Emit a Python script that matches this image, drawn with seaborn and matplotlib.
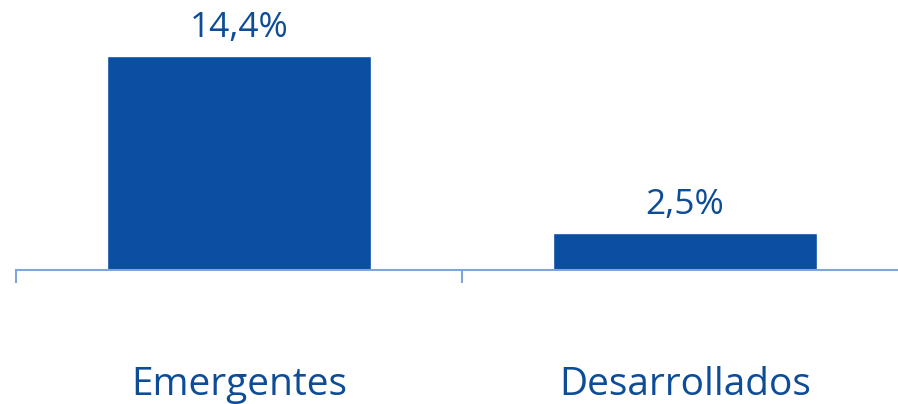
import matplotlib
matplotlib.use("Agg")
import matplotlib.pyplot as plt
import seaborn as sns
import pandas as pd

categorias = ["Emergentes", "Desarrollados"]
valores = [14.4, 2.5]
etiquetas = ["14,4%", "2,5%"]

azul = "#0a4fa1"
azul_texto = "#0d4c97"
azul_eje = "#7fa6d8"

sns.set_style("white")
plt.rcParams["font.family"] = ["Open Sans", "DejaVu Sans"]

df = pd.DataFrame({"cat": categorias, "val": valores})

fig = plt.figure(figsize=(8.98, 4.04), dpi=100)
ax = fig.add_axes([16 / 898, 134 / 404, 882 / 898, 270 / 404])

sns.barplot(data=df, x="cat", y="val", color=azul, saturation=1,
            width=0.59, ax=ax)

ax.set_xlim(-0.5, -0.5 + 882 / 446)
ax.set_ylim(0, 270 / 14.86)

for s in ["top", "right", "left"]:
    ax.spines[s].set_visible(False)
ax.spines["bottom"].set_color(azul_eje)
ax.spines["bottom"].set_linewidth(1.5)

ax.set_yticks([])
ax.set_xlabel("")
ax.set_ylabel("")

ax.set_xticks([0, 1])
ax.set_xticklabels(categorias, fontsize=28, color=azul_texto)
ax.tick_params(axis="x", which="major", bottom=True, length=0, pad=69)
ax.set_xticks([-0.5, 0.5], minor=True)
ax.tick_params(axis="x", which="minor", bottom=True, length=9, width=1.5,
               color=azul_eje, direction="out")

ax.bar_label(ax.containers[0], labels=etiquetas, fontsize=25.5,
             color=azul_texto, padding=8)

fig.savefig("out.png", dpi=100)
